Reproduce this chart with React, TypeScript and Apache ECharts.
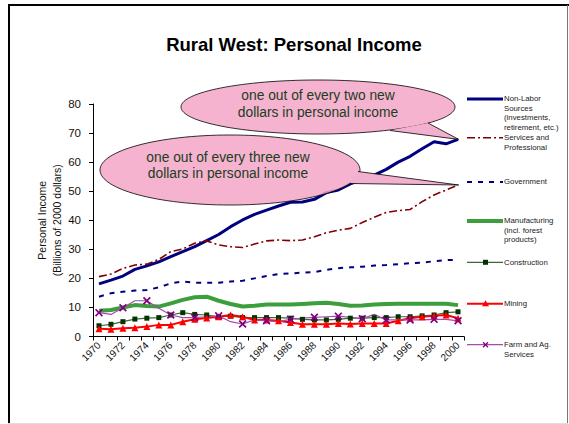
import React, { useEffect, useRef } from "react";
import * as echarts from "echarts";

const years = [
  "1970", "1971", "1972", "1973", "1974", "1975", "1976", "1977", "1978", "1979",
  "1980", "1981", "1982", "1983", "1984", "1985", "1986", "1987", "1988", "1989",
  "1990", "1991", "1992", "1993", "1994", "1995", "1996", "1997", "1998", "1999", "2000",
];

const nonLabor = [18.1, 19.4, 20.8, 23.1, 24.3, 25.7, 27.5, 29.2, 30.9, 33.0, 35.1, 37.8, 40.1, 42.0, 43.5, 44.9, 46.2, 46.3, 47.2, 49.5, 50.4, 52.5, 54.0, 55.5, 57.5, 60.0, 62.0, 64.6, 67.0, 66.3, 67.8];
const services = [20.6, 21.5, 23.4, 24.6, 24.9, 26.5, 29.2, 30.1, 32.1, 32.9, 31.5, 30.9, 30.6, 31.8, 32.9, 33.2, 33.0, 33.2, 34.3, 35.7, 36.6, 37.2, 39.2, 41.0, 42.7, 43.3, 43.7, 46.4, 48.7, 50.4, 52.1];
const government = [13.7, 14.9, 15.4, 15.8, 16.0, 16.9, 18.3, 18.9, 18.5, 18.5, 18.5, 18.9, 19.2, 20.0, 20.8, 21.5, 21.7, 22.0, 22.2, 22.9, 23.5, 23.8, 24.0, 24.4, 24.6, 24.9, 25.2, 25.4, 25.9, 26.3, 26.3];
const manufacturing = [8.9, 9.1, 10.0, 10.8, 10.5, 10.3, 11.4, 12.6, 13.5, 13.7, 12.3, 11.2, 10.3, 10.6, 11.0, 11.0, 11.0, 11.2, 11.4, 11.6, 11.2, 10.6, 10.7, 11.0, 11.2, 11.3, 11.3, 11.3, 11.3, 11.3, 10.8];
const construction = [3.7, 4.2, 5.1, 6.0, 6.3, 6.5, 7.4, 8.2, 7.6, 7.4, 6.8, 7.0, 6.5, 6.5, 6.5, 6.5, 6.3, 5.9, 5.7, 5.7, 5.9, 6.3, 6.3, 6.5, 6.5, 6.8, 6.8, 7.1, 7.4, 8.2, 8.5];
const mining = [2.7, 2.5, 2.8, 3.0, 3.4, 4.0, 4.0, 5.1, 5.9, 6.4, 6.8, 7.4, 6.8, 5.7, 5.7, 5.4, 4.8, 4.2, 4.2, 4.2, 4.5, 4.3, 4.5, 4.5, 4.5, 5.4, 6.3, 6.8, 7.1, 7.4, 6.3];
const farm = [8.2, 7.6, 9.9, 12.3, 12.3, 9.7, 7.4, 6.5, 6.5, 6.8, 7.1, 5.1, 4.3, 5.7, 5.4, 5.1, 5.9, 6.3, 6.6, 6.8, 7.0, 6.6, 6.1, 7.6, 5.7, 5.7, 5.7, 5.7, 5.9, 5.9, 5.4];

const yTicks = { min: 0, max: 80, interval: 10 };

const titleText = "Rural West: Personal Income";
const yAxisName = "Personal Income\n(Billions of 2000 dollars)";
const callout1 = "one out of every two new\ndollars in personal income";
const callout2 = "one out of every three new\ndollars in personal income";

const legendLabels = [
  "Non-Labor\nSources\n(investments,\nretirement, etc.)",
  "Services and\nProfessional",
  "Government",
  "Manufacturing\n(incl. forest\nproducts)",
  "Construction",
  "Mining",
  "Farm and Ag.\nServices",
];

const FONT = "Liberation Sans, Arial, sans-serif";
const xMark = "path://M0,1.5 L1.5,0 L5,3.5 L8.5,0 L10,1.5 L6.5,5 L10,8.5 L8.5,10 L5,6.5 L1.5,10 L0,8.5 L3.5,5 Z";

export default function App() {
  const ref = useRef<HTMLDivElement>(null);

  useEffect(() => {
    if (!ref.current) return;
    const chart = echarts.init(ref.current, undefined, { renderer: "svg" });

    const seriesDefs = [
      { name: legendLabels[0], data: nonLabor, color: "#000080", width: 3, type: "solid" as any, symbol: "none", symbolColor: "", symbolSize: 0 },
      { name: legendLabels[1], data: services, color: "#800000", width: 1.6, type: [8, 3, 2, 3] as any, symbol: "none", symbolColor: "", symbolSize: 0 },
      { name: legendLabels[2], data: government, color: "#000080", width: 2, type: [5, 6] as any, symbol: "none", symbolColor: "", symbolSize: 0 },
      { name: legendLabels[3], data: manufacturing, color: "#3c9e3c", width: 4, type: "solid" as any, symbol: "none", symbolColor: "", symbolSize: 0 },
      { name: legendLabels[4], data: construction, color: "#3a6a3a", width: 1.2, type: "solid" as any, symbol: "rect", symbolColor: "#003300", symbolSize: 5 },
      { name: legendLabels[5], data: mining, color: "#ff0000", width: 2, type: "solid" as any, symbol: "triangle", symbolColor: "#ff0000", symbolSize: 7 },
      { name: legendLabels[6], data: farm, color: "#a64ca6", width: 1.2, type: "solid" as any, symbol: xMark, symbolColor: "#800080", symbolSize: 8 },
    ];

    const legendY = [99, 137.7, 182, 221, 262.3, 303.7, 344.7];
    const lineH = 9.4;
    const legendGraphics: any[] = [];
    seriesDefs.forEach((s, k) => {
      const y = legendY[k];
      legendGraphics.push({
        type: "line",
        shape: { x1: 467, y1: y, x2: 503, y2: y },
        style: { stroke: s.color, lineWidth: s.width, lineDash: Array.isArray(s.type) ? s.type : null },
        z: 50,
      });
      if (s.symbol === "rect") {
        legendGraphics.push({ type: "rect", shape: { x: 483, y: y - 2.5, width: 5, height: 5 }, style: { fill: s.symbolColor }, z: 51 });
      } else if (s.symbol === "triangle") {
        legendGraphics.push({ type: "polygon", shape: { points: [[485.5, y - 3.5], [489, y + 2.5], [482, y + 2.5]] }, style: { fill: s.symbolColor }, z: 51 });
      } else if (s.symbol === xMark) {
        legendGraphics.push({ type: "line", shape: { x1: 483, y1: y - 2.5, x2: 488, y2: y + 2.5 }, style: { stroke: s.symbolColor, lineWidth: 1.3 }, z: 51 });
        legendGraphics.push({ type: "line", shape: { x1: 488, y1: y - 2.5, x2: 483, y2: y + 2.5 }, style: { stroke: s.symbolColor, lineWidth: 1.3 }, z: 51 });
      }
      legendGraphics.push({
        type: "text",
        x: 504,
        y: y - lineH / 2,
        style: {
          text: s.name,
          fill: "#222",
          font: `7.8px ${FONT}`,
          lineHeight: lineH,
          textAlign: "left",
          textVerticalAlign: "top",
        },
        z: 51,
      });
    });

    const bubbleFill = "rgba(243,166,200,0.85)";
    const bubble = (cx: number, cy: number, rx: number, ry: number, tail: number[][], text: string, tx: number, ty: number, lh: number) => [
      {
        type: "ellipse",
        shape: { cx, cy, rx, ry },
        style: { fill: bubbleFill, stroke: "#000", lineWidth: 0.8 },
        z: 100,
      },
      {
        type: "polygon",
        shape: { points: tail },
        style: { fill: "rgb(243,176,206)", stroke: null },
        z: 101,
      },
      {
        type: "polyline",
        shape: { points: [tail[0], tail[1], tail[2]] },
        style: { stroke: "#000", lineWidth: 0.8, fill: null },
        z: 102,
      },
      {
        type: "text",
        x: tx,
        y: ty,
        style: {
          text,
          fill: "#213d21",
          font: `13.8px ${FONT}`,
          lineHeight: lh,
          textAlign: "center",
          textVerticalAlign: "middle",
        },
        z: 103,
      },
    ];

    const frame = [
      { type: "line", shape: { x1: 8, y1: 5, x2: 569, y2: 5 }, style: { stroke: "#000", lineWidth: 2 }, z: 200 },
      { type: "line", shape: { x1: 9, y1: 5, x2: 9, y2: 424 }, style: { stroke: "#000", lineWidth: 2 }, z: 200 },
      { type: "line", shape: { x1: 567.5, y1: 5, x2: 567.5, y2: 424 }, style: { stroke: "#777", lineWidth: 1 }, z: 200 },
      { type: "line", shape: { x1: 8, y1: 423.5, x2: 568, y2: 423.5 }, style: { stroke: "#ddd", lineWidth: 1 }, z: 200 },
    ];

    chart.setOption({
      animation: false,
      backgroundColor: "#fff",
      title: {
        text: titleText,
        left: 289,
        top: 30,
        textAlign: "center",
        textStyle: { fontFamily: FONT, fontSize: 18.5, fontWeight: "bold", color: "#000" },
      },
      grid: { left: 93, top: 104, width: 371, height: 232.5, containLabel: false },
      xAxis: {
        type: "category",
        data: years,
        boundaryGap: true,
        axisLine: { lineStyle: { color: "#000", width: 1 } },
        axisTick: { show: true, interval: 0, length: 4, lineStyle: { color: "#000" } },
        axisLabel: { interval: 1, rotate: 45, fontFamily: FONT, fontSize: 10, color: "#111", margin: 7 },
        splitLine: { show: false },
      },
      yAxis: {
        type: "value",
        min: yTicks.min,
        max: yTicks.max,
        interval: yTicks.interval,
        name: yAxisName,
        nameLocation: "middle",
        nameRotate: 90,
        nameGap: 43.5,
        nameMoveOverlap: false,
        nameTextStyle: { fontFamily: FONT, fontSize: 10.5, color: "#111", lineHeight: 15, verticalAlign: "middle", align: "center" },
        axisLine: { show: true, lineStyle: { color: "#000", width: 1 } },
        axisTick: { show: true, length: 4, lineStyle: { color: "#000" } },
        axisLabel: { fontFamily: FONT, fontSize: 11.5, color: "#111", margin: 12 },
        splitLine: { show: false },
      },
      series: seriesDefs.map((s) => ({
        name: s.name,
        type: "line",
        data: s.data,
        symbol: s.symbol,
        symbolSize: s.symbolSize,
        showSymbol: s.symbol !== "none",
        itemStyle: { color: s.symbolColor || s.color },
        lineStyle: { color: s.color, width: s.width, type: s.type },
        emphasis: { disabled: true },
      })),
      graphic: [
        ...legendGraphics,
        ...bubble(318, 107, 137, 27, [[428, 123], [458.7, 139.4], [390, 130.5]], callout1, 318, 103.5, 17),
        ...bubble(230, 170, 130, 35, [[358, 171.5], [458.7, 185], [350, 183.5]], callout2, 228, 165.5, 16),
        ...frame,
      ],
    });

    return () => chart.dispose();
  }, []);

  return (
    <div
      ref={ref}
      style={{ position: "fixed", left: 0, top: 0, width: 569, height: 424 }}
    />
  );
}
